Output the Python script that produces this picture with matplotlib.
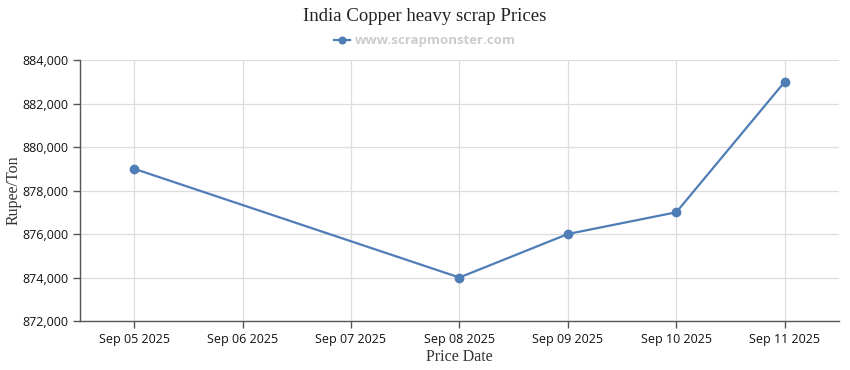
import numpy as np
import matplotlib
matplotlib.use("Agg")
import matplotlib.pyplot as plt
import matplotlib.dates as mdates
from matplotlib.ticker import FuncFormatter

dates = np.array(["2025-09-05", "2025-09-08", "2025-09-09", "2025-09-10", "2025-09-11"],
                 dtype="datetime64[D]")
prices = [879000, 874000, 876000, 877000, 883000]
tick_days = np.arange(np.datetime64("2025-09-05"), np.datetime64("2025-09-12"))
y_ticks = [872000, 874000, 876000, 878000, 880000, 882000, 884000]

line_color = "#4f7db5"
serif = ["Liberation Serif", "DejaVu Serif"]

fig = plt.figure(figsize=(8.5, 3.7), dpi=100)
ax = fig.add_axes([0.094, 0.1324, 0.893, 0.7054])

ax.plot(dates.astype("datetime64[ms]").astype(object), prices, color=line_color,
        lw=1.6, marker="o", ms=6, label="www.scrapmonster.com")

ax.set_xlim(mdates.date2num(np.datetime64("2025-09-04T12:00")),
            mdates.date2num(np.datetime64("2025-09-11T12:00")))
ax.set_xticks(mdates.date2num(tick_days))
ax.xaxis.set_major_formatter(mdates.DateFormatter("%b %d %Y"))
ax.set_ylim(872000, 884000)
ax.set_yticks(y_ticks)
ax.yaxis.set_major_formatter(FuncFormatter(lambda v, p: f"{int(v):,}"))

ax.grid(True, color="#dddddd", lw=0.9)
ax.set_axisbelow(True)
for s in ["top", "right"]:
    ax.spines[s].set_visible(False)
for s in ["left", "bottom"]:
    ax.spines[s].set_color("#555555")
    ax.spines[s].set_linewidth(1.0)
ax.tick_params(colors="#555555", labelcolor="#111111", labelsize=9, length=5, width=1)
for lab in ax.get_xticklabels() + ax.get_yticklabels():
    lab.set_family(["Open Sans", "DejaVu Sans"])

ax.set_xlabel("Price Date", family=serif, fontsize=11.5, color="#333333", labelpad=2)
ax.set_ylabel("Rupee/Ton", family=serif, fontsize=11.5, color="#333333", va="center")
ax.yaxis.set_label_coords(-0.087, 0.5)

fig.text(0.5, 0.955, "India Copper heavy scrap Prices", ha="center", va="center",
         family=serif, fontsize=13.5, color="#222222")
leg = fig.legend(loc="center", bbox_to_anchor=(0.5, 0.89), frameon=False,
                 handlelength=1.2, handletextpad=0.4, markerscale=0.8,
                 prop={"family": ["Open Sans", "DejaVu Sans"], "weight": "bold", "size": 9.5})
for t in leg.get_texts():
    t.set_color("#cccccc")

fig.savefig("out.png", dpi=100)
